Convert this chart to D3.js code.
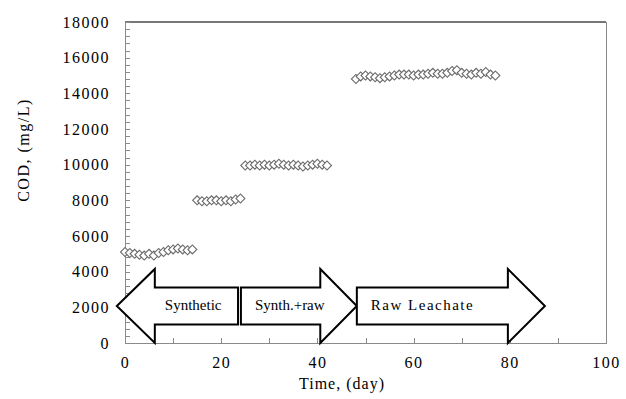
<!DOCTYPE html>
<html><head><meta charset="utf-8">
<script src="https://cdn.jsdelivr.net/npm/d3@7"></script>
<style>
body{margin:0;background:#fff}
svg{display:block}
svg text{font-family:"Liberation Serif","Times New Roman",serif !important;}
</style>
</head><body>
<script>
// ---- data ----
const days1 = [0,1,2,3,4,5,6,7,8,9,10,11,12,13,14];
const cod1  = [5100,5050,5000,4950,4900,5000,4900,5050,5100,5200,5250,5300,5250,5200,5250];
const days2 = [15,16,17,18,19,20,21,22,23,24];
const cod2  = [8000,7950,7950,8000,8000,7950,8000,7950,8050,8100];
const days3 = [25,26,27,28,29,30,31,32,33,34,35,36,37,38,39,40,41,42];
const cod3  = [9950,9950,10000,9950,10000,9950,10000,10050,10000,9950,10000,9950,9900,9950,10000,10050,10000,9950];
const days4 = [48,49,50,51,52,53,54,55,56,57,58,59,60,61,62,63,64,65,66,67,68,69,70,71,72,73,74,75,76,77];
const cod4  = [14800,14950,15000,14950,14900,14850,14900,14950,15000,15050,15050,15050,15000,15050,15050,15100,15150,15100,15100,15150,15250,15300,15150,15100,15050,15150,15100,15200,15050,15000];
const xTicks = [0,20,40,60,80,100];
const yTicks = [0,2000,4000,6000,8000,10000,12000,14000,16000,18000];
// phase arrows (days)
const phaseLabels = ["Synthetic","Synth.+raw","Raw Leachate"];
const phaseTail   = [23.5, 24.1, 48.2];
const phaseHead   = [6.2, 40.6, 79.6];
const phaseTip    = [-1.7, 48.2, 87.3];

// ---- layout ----
const W = 626, H = 399;
const x = d3.scaleLinear().domain([0,100]).range([125,606]);
const y = d3.scaleLinear().domain([0,18000]).range([343,22]);

const svg = d3.select("body").append("svg").attr("width",W).attr("height",H);
const axisCol = "#8a8a8a";

// frame
svg.append("rect").attr("x",x(0)).attr("y",y(18000)).attr("width",x(100)-x(0)).attr("height",y(0)-y(18000))
  .attr("fill","none").attr("stroke",axisCol).attr("stroke-width",1).attr("shape-rendering","crispEdges");
svg.append("line").attr("x1",x(0)).attr("x2",x(100)).attr("y1",y(18000)).attr("y2",y(18000))
  .attr("stroke","#777").attr("stroke-width",2).attr("shape-rendering","crispEdges");

// inward ticks
const yMinor = d3.range(0,18001,400);
svg.append("g").selectAll("line").data(yMinor).join("line")
  .attr("x1",x(0)).attr("x2",x(0)+5).attr("y1",d=>Math.round(y(d))+0.5).attr("y2",d=>Math.round(y(d))+0.5)
  .attr("stroke",axisCol);
const xMinor = d3.range(0,101,10);
svg.append("g").selectAll("line").data(xMinor).join("line")
  .attr("x1",d=>Math.round(x(d))+0.5).attr("x2",d=>Math.round(x(d))+0.5).attr("y1",y(0)).attr("y2",y(0)-5)
  .attr("stroke",axisCol);

// axes labels via d3 axes
const yAxis = svg.append("g").attr("transform",`translate(${x(0)},0)`)
  .call(d3.axisLeft(y).tickValues(yTicks).tickSize(0).tickPadding(15).tickFormat(d3.format("d")));
yAxis.attr("font-family",null);
yAxis.select(".domain").remove();
yAxis.selectAll("text").attr("font-size",16).attr("letter-spacing","1.5px").attr("fill","#000");

const xAxis = svg.append("g").attr("transform",`translate(0,${y(0)})`)
  .call(d3.axisBottom(x).tickValues(xTicks).tickSize(0).tickPadding(14).tickFormat(d3.format("d")));
xAxis.attr("font-family",null);
xAxis.select(".domain").remove();
xAxis.selectAll("text").attr("font-size",16).attr("letter-spacing","1.5px").attr("fill","#000");

// titles
svg.append("text").attr("x",342).attr("y",389).attr("text-anchor","middle")
  .attr("font-size",16).attr("letter-spacing","1px").text("Time, (day)");
svg.append("text").attr("transform","translate(29,150) rotate(-90)").attr("text-anchor","middle")
  .attr("font-size",16).attr("letter-spacing","1.5px").text("COD, (mg/L)");

// points
const pts = [];
[[days1,cod1],[days2,cod2],[days3,cod3],[days4,cod4]].forEach(([ds,cs])=>ds.forEach((d,i)=>pts.push([d,cs[i]])));
const diamond = d3.symbol().type(d3.symbolSquare).size(40)();
svg.append("g").selectAll("path").data(pts).join("path")
  .attr("d",diamond)
  .attr("transform",d=>`translate(${x(d[0])},${y(d[1])}) rotate(45)`)
  .attr("fill","#fff").attr("stroke","#6a6a6a").attr("stroke-width",1.1);

// arrows
const midV = 2075, halfBody = 1035, halfHead = 2075;
const arrows = phaseLabels.map((l,i)=>({label:l, tail:phaseTail[i], head:phaseHead[i], tip:phaseTip[i]}));
const ag = svg.append("g");
arrows.forEach(a=>{
  const p = [
    [x(a.tail), y(midV+halfBody)],
    [x(a.head), y(midV+halfBody)],
    [x(a.head), y(midV+halfHead)],
    [x(a.tip),  y(midV)],
    [x(a.head), y(midV-halfHead)],
    [x(a.head), y(midV-halfBody)],
    [x(a.tail), y(midV-halfBody)]
  ];
  ag.append("path").attr("d",d3.line()(p)+"Z").attr("fill","#fff").attr("stroke","#000").attr("stroke-width",2).attr("stroke-linejoin","miter");
  const bodyLeft = Math.min(x(a.tail), x(a.head));
  ag.append("text").attr("x",bodyLeft + (a.tip < a.tail ? 10 : 14)).attr("y",y(midV)+4)
    .attr("font-size",15)
    .attr("letter-spacing", a.label==="Raw Leachate" ? "1.5px" : "0px")
    .text(a.label);
});
</script>
</body></html>
